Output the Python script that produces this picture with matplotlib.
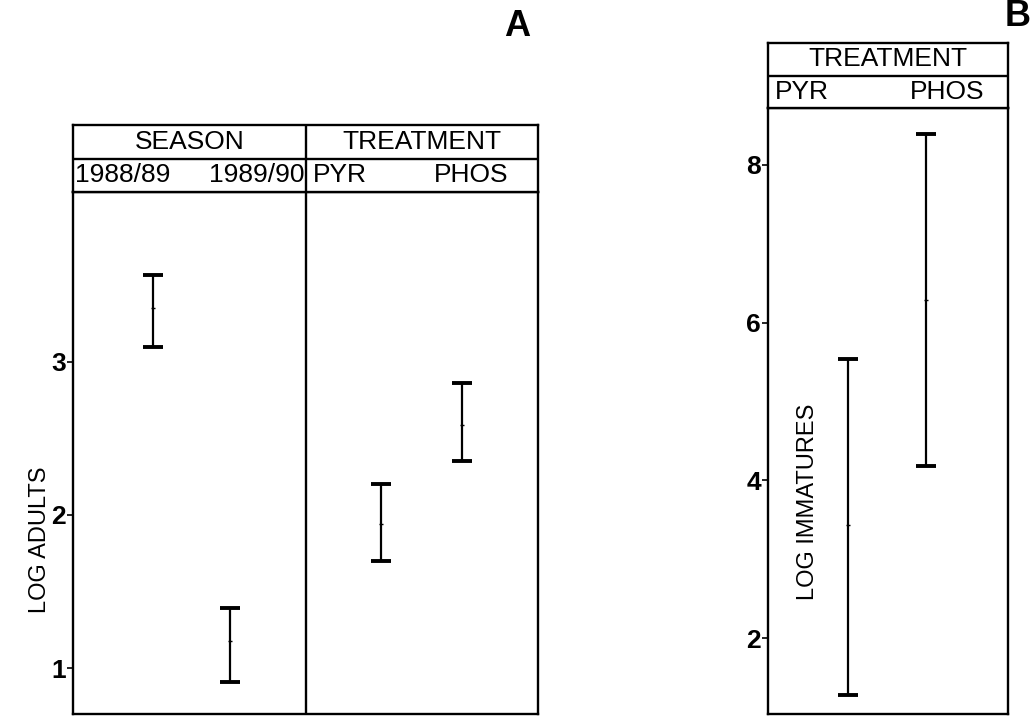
import matplotlib
matplotlib.use('Agg')
import matplotlib.pyplot as plt

plt.rcParams['font.family'] = ['Liberation Sans', 'DejaVu Sans']

# panel A: log adults, season and treatment groups
a_labels = ['1988/89', '1989/90', 'PYR', 'PHOS']
a_x = [0.344, 0.675, 1.325, 1.673]
a_low = [3.10, 0.91, 1.70, 2.35]
a_mean = [3.35, 1.18, 1.94, 2.59]
a_high = [3.57, 1.39, 2.20, 2.86]
a_ticks = [1, 2, 3]

# panel B: log immatures, treatment only
b_labels = ['PYR', 'PHOS']
b_x = [0.333, 0.658]
b_low = [1.28, 4.18]
b_mean = [3.44, 6.29]
b_high = [5.54, 8.39]
b_ticks = [2, 4, 6, 8]

W, H = 1034, 716
fig = plt.figure(figsize=(W / 100, H / 100), dpi=100)


def box(l, t, r, b):
    # pixel box -> figure fraction rect
    return [l / W, 1 - b / H, (r - l) / W, (b - t) / H]


def frame(ax, lw=1.7):
    for s in ax.spines.values():
        s.set_linewidth(lw)
        s.set_color('black')


def bars(ax, x, low, mean, high):
    err = [[m - lo for m, lo in zip(mean, low)], [hi - m for m, hi in zip(mean, high)]]
    ax.errorbar(x, mean, yerr=err, fmt='none', ecolor='black', elinewidth=1.6,
                capsize=7, capthick=2.8)
    ax.plot(x, mean, linestyle='none', marker='_', ms=3, mew=1.0, color='black')


# ---- panel A ----
axA = fig.add_axes(box(73, 192, 538, 714))
bars(axA, a_x, a_low, a_mean, a_high)
axA.set_xlim(0, 2)
axA.set_ylim(0.70, 4.11)
axA.axvline(1.0, color='black', lw=1.7)
axA.set_xticks([])
axA.set_yticks(a_ticks)
axA.tick_params(axis='y', direction='out', length=4, width=1.2, pad=1, labelsize=19)
for t in axA.get_yticklabels():
    t.set_fontweight('bold')
frame(axA)

hA = fig.add_axes(box(73, 125, 538, 192))
hA.set_xlim(0, 2)
hA.set_ylim(0, 2)
hA.set_xticks([])
hA.set_yticks([])
frame(hA)
hA.axhline(1.0, color='black', lw=1.7)
hA.axvline(1.0, color='black', lw=1.7)
hdr = dict(fontsize=19, va='center')
hA.text(0.5, 1.5, 'SEASON', ha='center', **hdr)
hA.text(1.5, 1.5, 'TREATMENT', ha='center', **hdr)
hA.text(0.01, 0.5, a_labels[0], ha='left', **hdr)
hA.text(0.995, 0.5, a_labels[1], ha='right', **hdr)
hA.text(1.03, 0.5, a_labels[2], ha='left', **hdr)
hA.text(1.55, 0.5, a_labels[3], ha='left', **hdr)

fig.text(40 / W, 1 - 540 / H, 'LOG ADULTS', rotation=90, ha='center', va='center', fontsize=17)
fig.text(517 / W, 1 - 27 / H, 'A', ha='center', va='center', fontsize=26, fontweight='bold')

# ---- panel B ----
axB = fig.add_axes(box(768, 108, 1008, 714))
bars(axB, b_x, b_low, b_mean, b_high)
axB.set_xlim(0, 1)
axB.set_ylim(1.04, 8.72)
axB.set_xticks([])
axB.set_yticks(b_ticks)
axB.tick_params(axis='y', direction='out', length=4, width=1.2, pad=1, labelsize=19)
for t in axB.get_yticklabels():
    t.set_fontweight('bold')
frame(axB)

hB = fig.add_axes(box(768, 43, 1008, 108))
hB.set_xlim(0, 1)
hB.set_ylim(0, 2)
hB.set_xticks([])
hB.set_yticks([])
frame(hB)
hB.axhline(1.0, color='black', lw=1.7)
hB.text(0.5, 1.5, 'TREATMENT', ha='center', **hdr)
hB.text(0.03, 0.5, b_labels[0], ha='left', **hdr)
hB.text(0.59, 0.5, b_labels[1], ha='left', **hdr)

fig.text(808 / W, 1 - 502 / H, 'LOG IMMATURES', rotation=90, ha='center', va='center', fontsize=17)
fig.text(1018 / W, 1 - 16 / H, 'B', ha='center', va='center', fontsize=26, fontweight='bold')

fig.savefig('out.png', dpi=100)
